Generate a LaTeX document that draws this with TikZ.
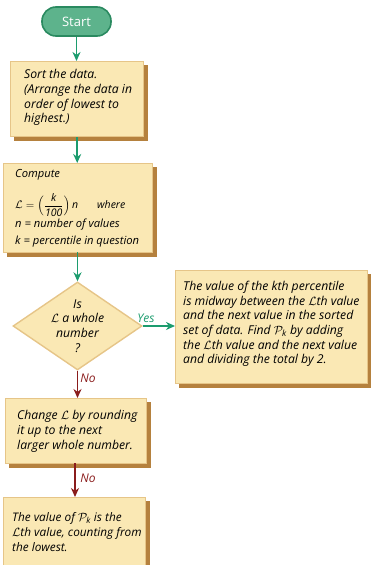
\documentclass[tikz,border=0pt]{standalone}
\usepackage{fontspec}
\setmainfont{Open Sans}
\usepackage{amsmath}
\usetikzlibrary{arrows.meta,shapes.geometric,backgrounds}
\definecolor{boxfill}{HTML}{FAE8B4}
\definecolor{boxline}{HTML}{E6C588}
\definecolor{shadowc}{HTML}{B5813E}
\definecolor{greenfill}{HTML}{5DB38C}
\definecolor{greenline}{HTML}{2A8A60}
\definecolor{arrowgreen}{HTML}{1C9C6E}
\definecolor{arrowred}{HTML}{8A1C1C}
\newcommand{\shadowbox}[1]{\fill[shadowc] ([shift={(3.5,3.5)}]#1.north west) rectangle ([shift={(3.5,3.5)}]#1.south east);}
\begin{document}
\begin{tikzpicture}[x=1pt,y=-1pt,
  box/.style={draw=boxline, fill=boxfill, line width=1.4pt, anchor=north west, inner sep=0},
  txt/.style={anchor=west, align=left, inner sep=0, font=\itshape\fontsize{12.2}{14.7}\selectfont},
  txtsmall/.style={anchor=west, align=left, inner sep=0, font=\itshape\fontsize{11.2}{13}\selectfont},
  startnode/.style={draw=greenline, fill=greenfill, line width=1.6pt, rounded corners=14pt,
    minimum width=69pt, minimum height=29pt, text=white, font=\fontsize{13}{15}\selectfont},
  garrow/.style={draw=arrowgreen, line width=1.8pt, -{Stealth[length=9pt,width=8pt]}},
  rarrow/.style={draw=arrowred, line width=1.8pt, -{Stealth[length=9pt,width=8pt]}},
  lbl/.style={inner sep=0, font=\itshape\fontsize{12}{14}\selectfont}
]
\useasboundingbox (0,0) rectangle (371,565);

\node[startnode] (start) at (76.5,21.5) {Start};

\node[box, minimum width=133pt, minimum height=75pt] (b1) at (10,61) {};
\node[txt] (t1) at (24,97.5) {Sort the data.\\(Arrange the data in\\order of lowest to\\highest.)};

\node[box, minimum width=149pt, minimum height=89pt] (b2) at (3,163) {};
\node[txtsmall] (t2a) at (15,175) {Compute};
\node[txtsmall, font=\itshape\fontsize{10.5}{12}\selectfont] (t2b) at (15,205) {$\mathcal{L}=\Bigl(\dfrac{\text{\itshape k}}{\text{\itshape 100}}\Bigr)\,\text{\itshape n}$};
\node[txtsmall, font=\itshape\fontsize{10.5}{12}\selectfont] (t2w) at (97,205) {where};
\node[txtsmall] (t2c) at (15,225) {\textit{n} = number of values};
\node[txtsmall] (t2d) at (15,242) {\textit{k} = percentile in question};

\node[diamond, draw=boxline, fill=boxfill, line width=1.4pt, inner sep=0,
  minimum width=129pt, minimum height=88pt] (dec) at (77.5,326) {};
\node[txt, anchor=center, align=center] (td) at (dec.center) {Is\\$\mathcal{L}$ a whole\\number\\?};

\node[box, minimum width=192pt, minimum height=113pt] (rb) at (175,270) {};
\node[txt] (trb) at (183,324) {The value of the \textit{k}th percentile\\is midway between the $\mathcal{L}$th value\\and the next value in the sorted\\set of data. Find $\mathcal{P}_{\text{\itshape k}}$ by adding\\the $\mathcal{L}$th value and the next value\\and dividing the total by 2.};

\node[box, minimum width=141pt, minimum height=65pt] (b3) at (5,398) {};
\node[txt] (t3) at (17,431.5) {Change $\mathcal{L}$ by rounding\\it up to the next\\larger whole number.};

\node[box, minimum width=142pt, minimum height=73pt] (b4) at (3,497) {};
\node[txt, font=\itshape\fontsize{11.8}{14.7}\selectfont] (t4) at (12,532) {The value of $\mathcal{P}_{\text{\itshape k}}$ is the\\$\mathcal{L}$th value, counting from\\the lowest.};

\begin{scope}[on background layer]
  \shadowbox{b1}
  \shadowbox{b2}
  \shadowbox{rb}
  \shadowbox{b3}
  \shadowbox{b4}
\end{scope}

\draw[garrow] (start.south) -- (start.south |- b1.north);
\draw[garrow] (b1.south) -- (b1.south |- b2.north);
\draw[garrow] (77.5,252) coordinate (c2) -- (dec.north);
\draw[garrow] (dec.east) -- (rb.west |- dec.east);
\node[lbl, text=arrowgreen] (yes) at (146,318) {Yes};
\draw[rarrow] (dec.south) -- (dec.south |- b3.north);
\node[lbl, text=arrowred] (no1) at (88,378) {No};
\draw[rarrow] (75,463) coordinate (c3) -- (c3 |- b4.north);
\node[lbl, text=arrowred] (no2) at (88,478) {No};
\end{tikzpicture}
\end{document}
